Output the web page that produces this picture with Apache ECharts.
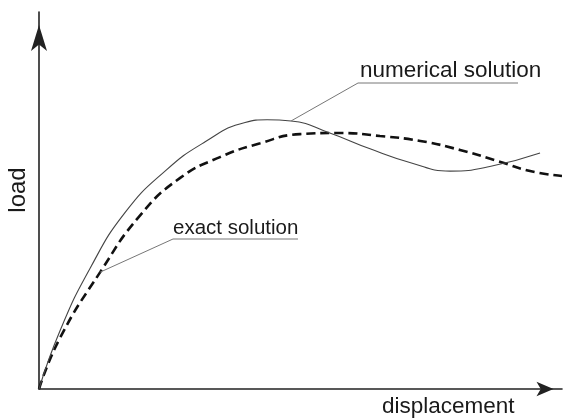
<!DOCTYPE html>
<html>
<head>
<meta charset="utf-8">
<script src="https://cdn.jsdelivr.net/npm/echarts@6/dist/echarts.min.js"></script>
<style>
  html, body { margin: 0; padding: 0; background: #fff; }
  #chart { width: 563px; height: 418px; }
</style>
</head>
<body>
<div id="chart"></div>
<script>
// Load–displacement response: numerical vs. exact solution (arbitrary units)
const numericalX = [0, 0.40, 0.98, 1.64, 2.41, 3.17, 3.94, 4.36, 4.82, 5.56, 6.33, 7.09, 7.86, 8.62, 9.58];
const numericalY = [0, 1.54, 3.21, 4.67, 5.78, 6.55, 7.07, 7.14, 7.11, 6.79, 6.37, 6.01, 5.78, 5.90, 6.26];

const exactX = [0, 0.40, 1.17, 1.93, 2.70, 3.46, 4.23, 4.99, 5.76, 6.52, 7.29, 8.05, 8.81, 9.39, 10];
const exactY = [0, 1.35, 3.10, 4.60, 5.60, 6.15, 6.52, 6.76, 6.79, 6.71, 6.58, 6.34, 6.03, 5.78, 5.65];

// Points on the curves that the callout leaders point to
const numericalCallout = [4.82, 7.11];
const exactCallout = [1.17, 3.10];

const axisName = { x: 'displacement', y: 'load' };
const seriesName = { numerical: 'numerical solution', exact: 'exact solution' };

const pairs = (xs, ys) => xs.map((x, i) => [x, ys[i]]);

const FONT = '"Liberation Sans", Arial, sans-serif';
const chart = echarts.init(document.getElementById('chart'), null, { renderer: 'canvas' });

chart.setOption({
  animation: false,
  backgroundColor: '#ffffff',
  grid: { left: 39, top: 12, width: 523, height: 377 },
  xAxis: {
    type: 'value', min: 0, max: 10,
    axisLine: {
      show: true, onZero: false,
      symbol: ['none', 'arrow'], symbolSize: [11, 17], symbolOffset: [0, -8.5],
      lineStyle: { color: '#222', width: 1.6 }
    },
    axisTick: { show: false }, axisLabel: { show: false }, splitLine: { show: false }
  },
  yAxis: {
    type: 'value', min: 0, max: 10,
    axisLine: {
      show: true, onZero: false,
      symbol: ['none', 'arrow'], symbolSize: [12, 26], symbolOffset: [0, -13],
      lineStyle: { color: '#222', width: 1.6 }
    },
    axisTick: { show: false }, axisLabel: { show: false }, splitLine: { show: false }
  },
  series: [
    {
      name: seriesName.numerical, type: 'line', smooth: 0.5,
      showSymbol: false, clip: false,
      lineStyle: { color: '#444', width: 1.1 },
      data: pairs(numericalX, numericalY), z: 3
    },
    {
      name: seriesName.exact, type: 'line', smooth: 0.5,
      showSymbol: false, clip: false,
      lineStyle: { color: '#111', width: 2.6, type: [9, 5] },
      data: pairs(exactX, exactY), z: 2
    }
  ]
});

// Callout leaders and labels
const pN = chart.convertToPixel({ gridIndex: 0 }, numericalCallout);
const pE = chart.convertToPixel({ gridIndex: 0 }, exactCallout);
const lead = { stroke: '#777', lineWidth: 1 };
const txt = (text, x, y, size, extra) => Object.assign({
  type: 'text', z: 10,
  style: { text, x, y, font: size + 'px ' + FONT, fill: '#1a1a1a', textAlign: 'left', textVerticalAlign: 'middle' }
}, extra || {});

chart.setOption({
  graphic: [
    { type: 'polyline', z: 9, shape: { points: [[pN[0], pN[1]], [358, 83], [518, 83]] }, style: lead },
    { type: 'polyline', z: 9, shape: { points: [[pE[0], pE[1]], [173, 239], [298, 239]] }, style: lead },
    txt(seriesName.numerical, 360, 71, 22.5),
    txt(seriesName.exact, 173, 228, 20.5),
    txt(axisName.x, 382, 407, 22.5),
    txt(axisName.y, 0, 0, 24, { x: 18, y: 190, rotation: Math.PI / 2,
      style: { text: axisName.y, x: 0, y: 0, font: '24px ' + FONT, fill: '#1a1a1a', textAlign: 'center', textVerticalAlign: 'middle' } })
  ]
});
</script>
</body>
</html>
